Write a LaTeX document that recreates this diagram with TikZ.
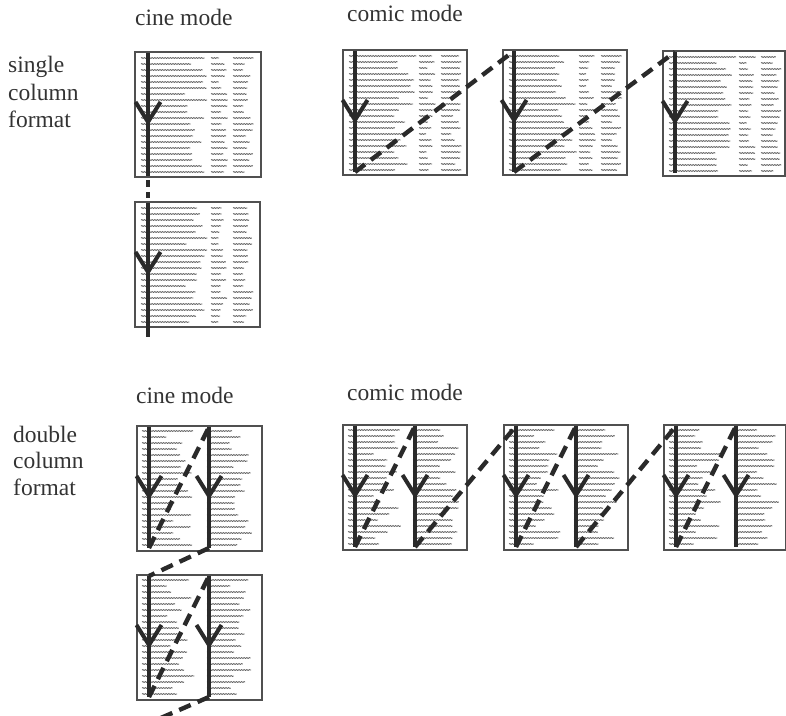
\documentclass[tikz,border=0pt]{standalone}
\usepackage{fontspec}
\setmainfont{Liberation Serif}
\usetikzlibrary{calc,decorations.pathmorphing}

\definecolor{ink}{HTML}{2A2A2A}
\definecolor{frame}{HTML}{505050}
\definecolor{txtgray}{HTML}{606060}
\definecolor{labelink}{HTML}{333333}

\tikzset{
  page/.style={draw=frame, line width=1.1pt, fill=white, rectangle, anchor=north west,
    inner sep=0pt, outer sep=0pt, minimum width=#1, minimum height=125pt},
  page/.default=124pt,
  txt/.style={draw=txtgray, line width=0.8pt,
    decorate, decoration={snake, amplitude=0.45pt, segment length=2.6pt}},
  colline/.style={draw=ink, line width=4.4pt, line cap=butt},
  dashline/.style={draw=ink, line width=4.4pt, line cap=butt, dash pattern=on 12.5pt off 7.5pt},
  pagebreakline/.style={dashline, dash pattern=on 2pt off 4pt on 7pt off 5pt on 6pt off 10pt},
  lbl/.style={font=\fontsize{23.5}{27}\selectfont, text=labelink, anchor=base west, inner sep=0pt},
  vhead/.pic={\draw[ink, line width=4pt, line cap=butt, line join=round]
    (-12.5,-20) -- (0,0) -- (12.5,-20);}
}

% lines of "text" on a one-column page with two narrow side columns
\newcommand\singletextlines[1]{%
  \foreach \r in {0,...,19}{%
    \pgfmathsetmacro\la{44+24*rnd}%
    \pgfmathsetmacro\lb{7+10*rnd}%
    \pgfmathsetmacro\lc{10+11*rnd}%
    \pgfmathsetmacro\yy{6+6*\r}%
    \draw[txt] ($(#1.north west)+(6,\yy)$) -- ++(\la,0);
    \draw[txt] ($(#1.north west)+(76,\yy)$) -- ++(\lb,0);
    \draw[txt] ($(#1.north west)+(98,\yy)$) -- ++(\lc,0);
  }}

% lines of "text" on a two-column page
\newcommand\doubletextlines[1]{%
  \foreach \r in {0,...,19}{%
    \pgfmathsetmacro\la{24+29*rnd}%
    \pgfmathsetmacro\lb{22+24*rnd}%
    \pgfmathsetmacro\yy{5+6*\r}%
    \draw[txt] ($(#1.north west)+(5,\yy)$) -- ++(\la,0);
    \draw[txt] ($(#1.north west)+(70,\yy)$) -- ++(\lb,0);
  }}

% top/bottom coordinates of a reading column inside a page
\newcommand\colends[3]{%
  \coordinate (#1#3t) at ($(#1.north west)+(#2,1)$);
  \coordinate (#1#3b) at ($(#1.south west)+(#2,-3)$);}

% reading column with its arrowhead
\newcommand\readcol[1]{%
  \draw[colline] (#1t) -- (#1b);
  \pic at ($(#1t)!0.57!(#1b)$) {vhead};}

\begin{document}
\begin{tikzpicture}[x=1pt, y=-1pt]
\useasboundingbox (0,0) rectangle (786,715);
\pgfmathsetseed{4711}

% ---------- headings and row labels ----------
\node[lbl] (hcineA) at (135,25) {cine mode};
\node[lbl] (hcomicA) at (347,21) {comic mode};
\node[lbl] (rowA1) at (8,72) {single};
\node[lbl] (rowA2) at (8,100) {column};
\node[lbl] (rowA3) at (8,127) {format};

\node[lbl] (hcineB) at (136,403) {cine mode};
\node[lbl] (hcomicB) at (347,400) {comic mode};
\node[lbl] (rowB1) at (13,442) {double};
\node[lbl] (rowB2) at (13,468) {column};
\node[lbl] (rowB3) at (13,495) {format};

% ---------- single column format ----------
\node[page=126pt] (C1) at (135,52) {};
\node[page=125pt] (C2) at (135,202) {};
\node[page] (M1) at (343,50) {};
\node[page] (M2) at (503,50) {};
\node[page=122pt] (M3) at (663,51) {};

\foreach \p in {C1,C2,M1,M2,M3}{\singletextlines{\p}}

\colends{C1}{13}{a}
\colends{C2}{13}{a}
\colends{M1}{12}{a}
\colends{M2}{11}{a}
\colends{M3}{12}{a}
\coordinate (C2end) at ($(C2ab)+(0,13)$);

\foreach \c in {C1a,C2a,M1a,M2a,M3a}{\readcol{\c}}

\draw[pagebreakline] (C1ab) -- (C2at);
\draw[dashline] (C2ab) -- (C2end);
\draw[dashline] (M1ab) -- (M2at);
\draw[dashline] (M2ab) -- (M3at);

% ---------- double column format ----------
\node[page=125pt] (D1) at (137,426) {};
\node[page=125pt] (D2) at (137,575) {};
\node[page] (N1) at (343,425) {};
\node[page] (N2) at (504,425) {};
\node[page=122pt] (N3) at (664,425) {};

\foreach \p in {D1,D2,N1,N2,N3}{\doubletextlines{\p}}

\foreach \p in {D1,D2,N1,N2,N3}{%
  \colends{\p}{12}{a}
  \colends{\p}{72}{b}}
\coordinate (D2end) at ($(D2bb)+(-62,27)$);

\foreach \c in {D1a,D1b,D2a,D2b,N1a,N1b,N2a,N2b,N3a,N3b}{\readcol{\c}}

% cine mode: down one column, up to the next, then on to the next page
\draw[dashline] (D1ab) -- (D1bt);
\draw[dashline] (D1bb) -- (D2at);
\draw[dashline] (D2ab) -- (D2bt);
\draw[dashline] (D2bb) -- (D2end);

% comic mode: pages side by side
\draw[dashline] (N1ab) -- (N1bt);
\draw[dashline] (N1bb) -- (N2at);
\draw[dashline] (N2ab) -- (N2bt);
\draw[dashline] (N2bb) -- (N3at);
\draw[dashline] (N3ab) -- (N3bt);
\end{tikzpicture}
\end{document}
